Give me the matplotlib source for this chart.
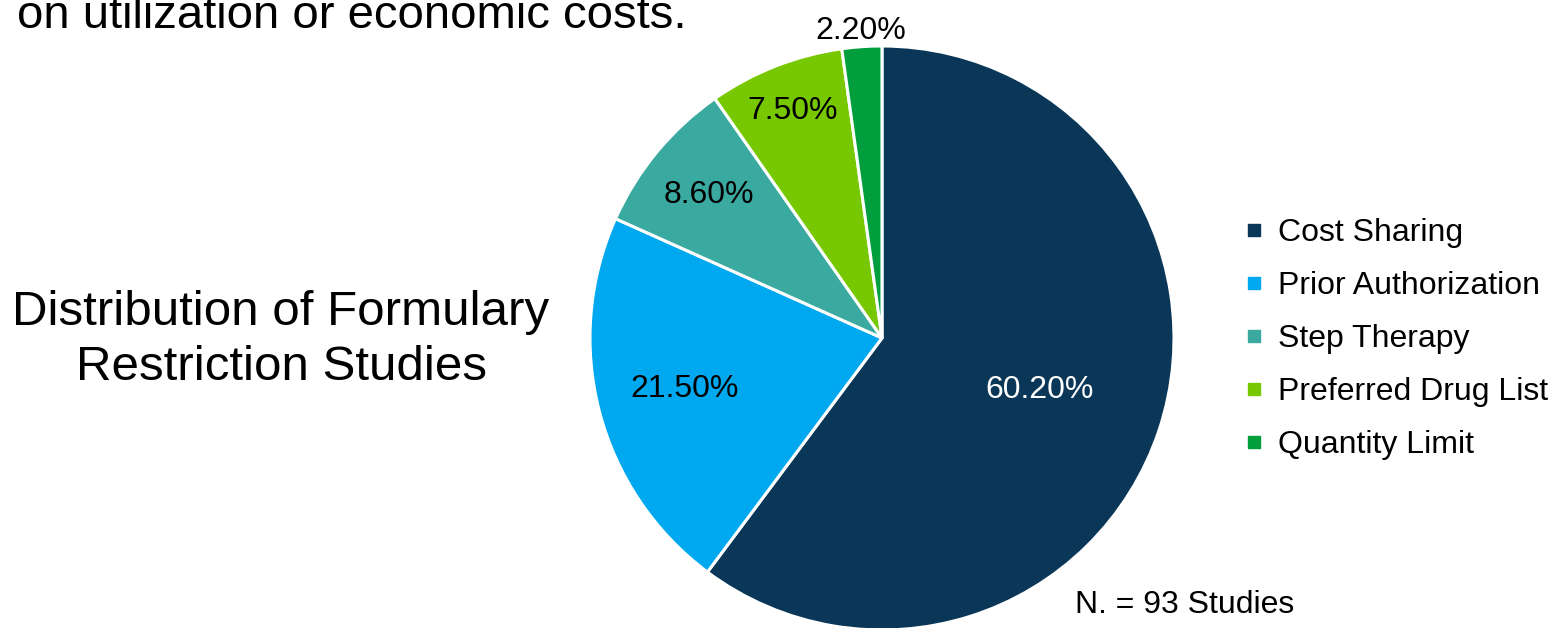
import numpy as np
import matplotlib
matplotlib.use("Agg")
import matplotlib.pyplot as plt
from matplotlib.lines import Line2D

plt.rcParams['font.family'] = ['Liberation Sans', 'DejaVu Sans']

# donnees
categories = ["Cost Sharing", "Prior Authorization", "Step Therapy",
              "Preferred Drug List", "Quantity Limit"]
parts = [60.2, 21.5, 8.6, 7.5, 2.2]
couleurs = ["#0a3757", "#00a8f0", "#3aa9a0", "#77c800", "#009e3c"]
etiquettes = ["60.20%", "21.50%", "8.60%", "7.50%", "2.20%"]
couleurs_txt = ["white", "black", "black", "black", "black"]
distances = [0.57, 0.70, 0.77, 0.835, 1.055]

W, H = 1553, 628
fig = plt.figure(figsize=(W / 100, H / 100), dpi=100)

# camembert
cx, cy, r = 882, 338, 292
ax = fig.add_axes([(cx - r) / W, (H - cy - r) / H, 2 * r / W, 2 * r / H])
wedges, _ = ax.pie(parts, colors=couleurs, startangle=90, counterclock=False,
                   radius=1, wedgeprops=dict(edgecolor="white", linewidth=2.2))
ax.set_xlim(-1, 1)
ax.set_ylim(-1, 1)
ax.set_aspect("equal")
ax.axis("off")

for w, txt, col, d in zip(wedges, etiquettes, couleurs_txt, distances):
    ang = np.deg2rad((w.theta1 + w.theta2) / 2)
    ax.text(d * np.cos(ang), d * np.sin(ang), txt, color=col, fontsize=23,
            ha="center", va="center", clip_on=False)

# textes (la premiere ligne est coupee en haut, comme sur l'original)
fig.text(17 / W, 1 - 28 / H, "on utilization or economic costs.", fontsize=34,
         ha="left", va="baseline")
fig.text(281 / W, 1 - 340 / H, "Distribution of Formulary\nRestriction Studies",
         fontsize=35.5, ha="center", va="center", linespacing=1.26)
fig.text(1075 / W, 1 - 605 / H, "N. = 93 Studies", fontsize=23,
         ha="left", va="center")

# legende
poignees = [Line2D([], [], marker="s", linestyle="", markersize=8.5,
                   markerfacecolor=c, markeredgecolor=c) for c in couleurs]
fig.legend(poignees, categories, loc="center left",
           bbox_to_anchor=(1244 / W, 1 - 339 / H), frameon=False, fontsize=23,
           handlelength=0.6, handletextpad=0.45, labelspacing=0.72,
           borderpad=0, borderaxespad=0)

fig.savefig("out.png", dpi=100)
